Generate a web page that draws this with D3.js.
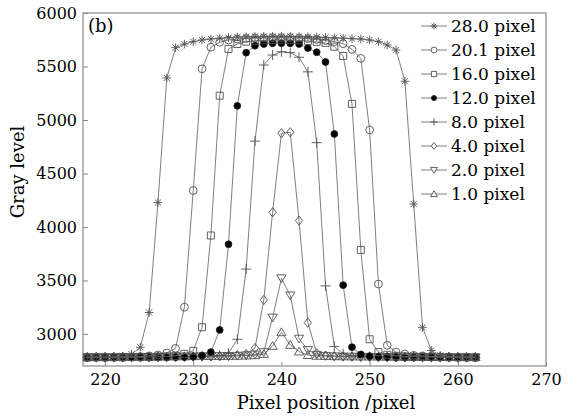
<!DOCTYPE html>
<html>
<head>
<meta charset="utf-8">
<script src="https://cdn.jsdelivr.net/npm/d3@7"></script>
<style>
	body{margin:0;background:#fff;}
	text{font-family:'DejaVu Serif',serif;fill:#000;}
</style>
</head>
<body>
<div id="container"></div>
<script>
var pixelPos = [218,219,220,221,222,223,224,225,226,227,228,229,230,231,232,233,234,235,236,237,238,239,240,241,242,243,244,245,246,247,248,249,250,251,252,253,254,255,256,257,258,259,260,261,262];

var labels = ['28.0 pixel','20.1 pixel','16.0 pixel','12.0 pixel','8.0 pixel','4.0 pixel','2.0 pixel','1.0 pixel'];

var s28 = [2782,2783,2781,2784,2786,2810,2875,3200,4228,5393,5676,5710,5732,5748,5757,5765,5770,5775,5778,5780,5782,5783,5783,5782,5780,5778,5775,5772,5768,5765,5760,5757,5748,5732,5701,5654,5362,4215,3062,2845,2800,2790,2785,2783,2782];
var s20 = [2780,2781,2782,2781,2783,2784,2788,2795,2803,2822,2865,3250,4340,5478,5680,5726,5748,5757,5762,5766,5768,5770,5770,5769,5766,5760,5752,5742,5732,5713,5660,5576,4907,3466,2893,2830,2812,2800,2795,2790,2786,2784,2783,2782,2781];
var s16 = [2779,2781,2780,2782,2781,2783,2782,2784,2786,2789,2795,2813,2842,3062,3920,5227,5664,5710,5732,5740,5745,5748,5750,5748,5745,5738,5730,5720,5685,5598,5150,3785,2950,2830,2805,2795,2790,2787,2785,2784,2783,2782,2781,2782,2780];
var s12 = [2778,2779,2778,2780,2779,2780,2781,2780,2782,2781,2783,2784,2787,2797,2830,3037,3838,5132,5629,5694,5710,5717,5717,5717,5710,5672,5633,5542,4869,3456,2876,2808,2792,2786,2784,2782,2781,2782,2780,2781,2779,2780,2779,2780,2778];
var s8 = [2782,2781,2783,2782,2781,2783,2782,2784,2783,2784,2785,2786,2787,2789,2792,2798,2819,2950,3606,4802,5514,5607,5638,5629,5586,5450,4788,3449,2882,2815,2796,2790,2787,2785,2784,2783,2782,2783,2781,2782,2781,2782,2780,2781,2781];
var s4 = [2781,2782,2781,2783,2782,2784,2783,2785,2784,2786,2786,2787,2788,2790,2791,2793,2796,2802,2812,2868,3318,4137,4876,4885,4059,3105,2819,2798,2792,2789,2787,2786,2785,2784,2784,2783,2782,2783,2782,2781,2782,2781,2781,2780,2781];
var s2 = [2783,2782,2784,2783,2785,2784,2786,2785,2787,2788,2788,2789,2790,2791,2792,2793,2794,2796,2800,2808,2830,3153,3520,3360,2956,2850,2805,2795,2791,2789,2788,2787,2786,2785,2785,2784,2783,2784,2783,2782,2783,2782,2782,2781,2782];
var s1 = [2784,2783,2785,2784,2786,2785,2787,2786,2788,2789,2789,2790,2791,2792,2792,2793,2794,2795,2797,2800,2812,2888,3015,2897,2835,2802,2795,2793,2791,2790,2789,2788,2788,2787,2786,2786,2785,2785,2784,2784,2783,2783,2784,2782,2783];

var xTicks = [220,230,240,250,260,270];
var yTicks = [3000,3500,4000,4500,5000,5500,6000];

var init = function(){

	return {

		w:577,
		h:419,

		plot:{l:83,r:546,t:13,b:366},

		lineColor:'#707070',
		markColor:'#505050',

		//marker shape for each series, same order as labels
		markers:['star','circle','square','dot','plus','diamond','down','up'],

		markerPath:function(type,k){
			var p = d3.path(), r, a, i;
			k = k || 1;
			if(type === 'circle' || type === 'dot'){
				r = (type === 'dot' ? 3.4 : 3.9)*k;
				p.moveTo(r,0);
				p.arc(0,0,r,0,Math.PI*2);
			} else if(type === 'square'){
				r = 3.5*k;
				p.rect(-r,-r,r*2,r*2);
			} else if(type === 'plus'){
				r = 5*k;
				p.moveTo(-r,0); p.lineTo(r,0);
				p.moveTo(0,-r); p.lineTo(0,r);
			} else if(type === 'star'){
				r = 4.3*k;
				for(i=0;i<4;i++){
					a = i*Math.PI/4;
					p.moveTo(-r*Math.cos(a),-r*Math.sin(a));
					p.lineTo(r*Math.cos(a),r*Math.sin(a));
				}
			} else if(type === 'diamond'){
				p.moveTo(0,-4.6*k); p.lineTo(3.6*k,0); p.lineTo(0,4.6*k); p.lineTo(-3.6*k,0); p.closePath();
			} else if(type === 'down'){
				p.moveTo(-4.6*k,-3.4*k); p.lineTo(4.6*k,-3.4*k); p.lineTo(0,4.4*k); p.closePath();
			} else if(type === 'up'){
				p.moveTo(-4.6*k,3.4*k); p.lineTo(4.6*k,3.4*k); p.lineTo(0,-4.4*k); p.closePath();
			}
			return p.toString();
		},

		generate:function(){
			var P = self.plot;

			self.svg = d3.select('#container').append('svg')
				.attr('width',self.w)
				.attr('height',self.h)
				.style('display','block')
				.style('background','#fff');

			var x = d3.scaleLinear().domain([217.5,270]).range([P.l,P.r]);
			var y = d3.scaleLinear().domain([2700,6000]).range([P.b,P.t]);

			var allSeries = [s28,s20,s16,s12,s8,s4,s2,s1];
			var data = allSeries.map(function(vals,i){
				return {
					label:labels[i],
					marker:self.markers[i],
					points:vals.map(function(v,j){ return {x:pixelPos[j],y:v}; })
				};
			});

			//axes, ticks pointing inward
			var yAxis = d3.axisLeft(y).tickValues(yTicks).tickSize(-5).tickPadding(6).tickFormat(d3.format('d'));
			var xAxis = d3.axisBottom(x).tickValues(xTicks).tickSize(-4).tickPadding(8).tickFormat(d3.format('d'));

			var gy = self.svg.append('g')
				.attr('transform','translate(' +P.l +',0)')
				.call(yAxis);
			var gx = self.svg.append('g')
				.attr('transform','translate(0,' +P.b +')')
				.call(xAxis);
			[gx,gy].forEach(function(g){
				g.select('.domain').remove();
				g.selectAll('.tick line').attr('stroke','#888');
				g.selectAll('.tick text')
					.style('font-family','DejaVu Serif')
					.style('font-size','16px')
					.attr('fill','#000');
			});

			//frame
			self.svg.append('rect')
				.attr('x',P.l)
				.attr('y',P.t)
				.attr('width',P.r -P.l)
				.attr('height',P.b -P.t)
				.attr('fill','none')
				.attr('stroke','#8a8a8a')
				.attr('stroke-width',1.2);

			var line = d3.line()
				.x(function(d){ return x(d.x); })
				.y(function(d){ return y(d.y); });

			//draw smallest first so the wide profiles sit on top
			var drawOrder = data.slice().reverse();

			var seriesG = self.svg.selectAll('g.series')
				.data(drawOrder)
				.enter().append('g')
				.classed('series',true);

			seriesG.append('path')
				.attr('d',function(d){ return line(d.points); })
				.attr('fill','none')
				.attr('stroke',self.lineColor)
				.attr('stroke-width',0.9);

			seriesG.each(function(s){
				d3.select(this).selectAll('path.mark')
					.data(s.points)
					.enter().append('path')
					.classed('mark',true)
					.attr('d',self.markerPath(s.marker))
					.attr('transform',function(d){
						return 'translate(' +x(d.x) +',' +y(d.y) +')';
					})
					.attr('fill',s.marker === 'dot' ? '#000' : 'none')
					.attr('stroke',s.marker === 'dot' ? '#222' : self.markColor)
					.attr('stroke-width',0.9);
			});

			//legend
			var leg = self.svg.append('g')
				.attr('transform','translate(421,26)');
			var item = leg.selectAll('g.item')
				.data(data)
				.enter().append('g')
				.classed('item',true)
				.attr('transform',function(d,i){ return 'translate(0,' +(i*24) +')'; });
			item.append('line')
				.attr('x1',0).attr('x2',26)
				.attr('stroke',self.lineColor)
				.attr('stroke-width',0.9);
			item.append('path')
				.attr('d',function(d){ return self.markerPath(d.marker,0.75); })
				.attr('transform','translate(13,0)')
				.attr('fill',function(d){ return d.marker === 'dot' ? '#000' : '#fff'; })
				.attr('stroke',function(d){ return d.marker === 'dot' ? '#222' : self.markColor; })
				.attr('stroke-width',0.9);
			item.append('text')
				.attr('x',30)
				.attr('dy','0.36em')
				.style('font-size','17px')
				.text(function(d){ return d.label; });

			//titles
			self.svg.append('text')
				.attr('x',326)
				.attr('y',409)
				.attr('text-anchor','middle')
				.style('font-size','18px')
				.text('Pixel position /pixel');
			self.svg.append('text')
				.attr('transform','translate(24,172)rotate(-90)')
				.attr('text-anchor','middle')
				.style('font-size','18px')
				.text('Gray level');
			self.svg.append('text')
				.attr('x',88)
				.attr('y',32)
				.style('font-size','18px')
				.text('(b)');
		}
	}
}

var self = init();
self.generate();
</script>
</body>
</html>
